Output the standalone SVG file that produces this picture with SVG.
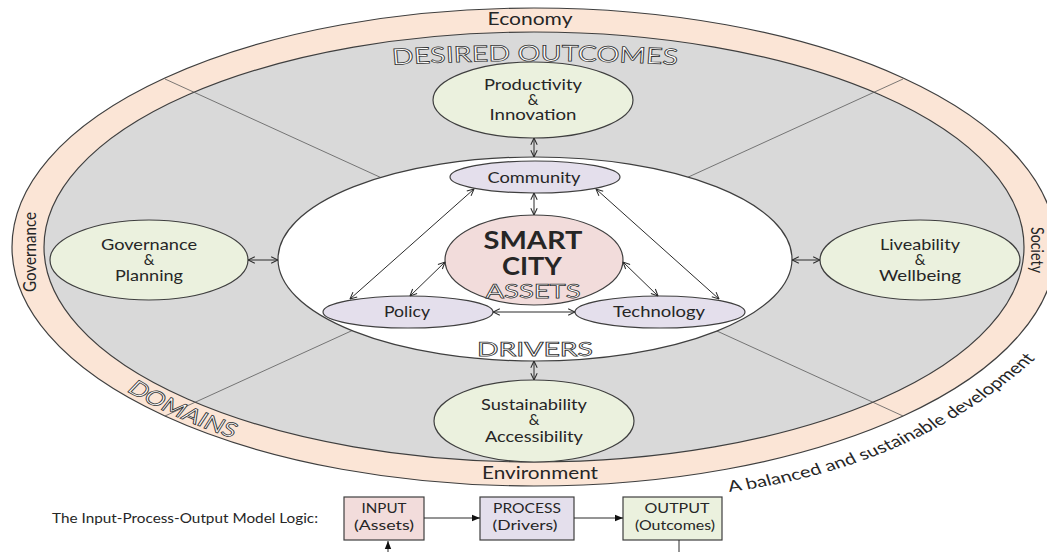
<svg xmlns="http://www.w3.org/2000/svg" width="1047" height="552" viewBox="0 0 1047 552">
  <defs>
    <style>
      .lbl { font-family: Lato, "Open Sans", "DejaVu Sans", sans-serif; fill: #262626; }
      .node { font-size: 15px; text-anchor: middle; }
      .ring { font-size: 17px; text-anchor: middle; }
      .outline { font-family: Lato, "Open Sans", "DejaVu Sans", sans-serif; fill: #ffffff; stroke: #333333; stroke-width: 0.75; }
      .edge { stroke: #2b2b2b; stroke-width: 1; fill: none; }
      .shape { stroke: #3f3f3f; stroke-width: 1.2; }
      .divider { stroke: #5a5a5a; stroke-width: 0.8; }
      .box { stroke: #3f3f3f; stroke-width: 1.2; }
      .ipo { font-size: 13px; text-anchor: middle; }
    </style>
    <marker id="open" viewBox="0 0 10 10" refX="9.5" refY="5" markerWidth="8" markerHeight="8" markerUnits="userSpaceOnUse" orient="auto-start-reverse">
      <path d="M1,1 L9.5,5 L1,9" fill="none" stroke="#2b2b2b" stroke-width="1.3"/>
    </marker>
    <marker id="solid" viewBox="0 0 10 10" refX="10" refY="5" markerWidth="8" markerHeight="8" markerUnits="userSpaceOnUse" orient="auto">
      <path d="M0,1 L10,5 L0,9 Z" fill="#111"/>
    </marker>
    <!-- curved baselines, in the 1/1.3 horizontally compressed frame -->
    <path id="p-outcomes" d="M 284.6,66 Q 411.5,56 538.5,66"/>
    <path id="p-domains" d="M 92.3,387 A 396.2,236 0 0 0 410.8,483"/>
    <path id="p-balance" d="M 561,492 C 654,476 738,432 808,345"/>
  </defs>

  <rect width="1047" height="552" fill="#ffffff"/>

  <!-- domain ring and outcome field -->
  <g id="domains-ring">
    <ellipse cx="534" cy="247" rx="522" ry="239" fill="#FBE5D6" class="shape"/>
    <ellipse cx="534" cy="247" rx="490" ry="215" fill="#D9D9D9" class="shape"/>
    <line x1="165" y1="79" x2="903" y2="416" class="divider"/>
    <line x1="903" y1="79" x2="165" y2="416" class="divider"/>
  </g>

  <g id="drivers-zone">
    <ellipse cx="535" cy="259" rx="257" ry="102" fill="#ffffff" class="shape"/>
  </g>

  <g id="productivity">
    <ellipse cx="533" cy="100" rx="100" ry="38" fill="#EBF1DE" class="shape"/>
    <text class="lbl node" x="533" y="90" textLength="98" lengthAdjust="spacingAndGlyphs">Productivity</text>
    <text class="lbl node" x="533" y="105">&amp;</text>
    <text class="lbl node" x="533" y="120" textLength="87" lengthAdjust="spacingAndGlyphs">Innovation</text>
  </g>

  <g id="governance">
    <ellipse cx="149" cy="260" rx="99" ry="40" fill="#EBF1DE" class="shape"/>
    <text class="lbl node" x="149" y="250" textLength="96" lengthAdjust="spacingAndGlyphs">Governance</text>
    <text class="lbl node" x="149" y="265">&amp;</text>
    <text class="lbl node" x="149" y="281" textLength="68" lengthAdjust="spacingAndGlyphs">Planning</text>
  </g>

  <g id="liveability">
    <ellipse cx="920" cy="260" rx="100" ry="40" fill="#EBF1DE" class="shape"/>
    <text class="lbl node" x="920" y="250" textLength="80" lengthAdjust="spacingAndGlyphs">Liveability</text>
    <text class="lbl node" x="920" y="265">&amp;</text>
    <text class="lbl node" x="920" y="281" textLength="82" lengthAdjust="spacingAndGlyphs">Wellbeing</text>
  </g>

  <g id="sustainability">
    <ellipse cx="534" cy="421" rx="100" ry="41" fill="#EBF1DE" class="shape"/>
    <text class="lbl node" x="534" y="410" textLength="106" lengthAdjust="spacingAndGlyphs">Sustainability</text>
    <text class="lbl node" x="534" y="425">&amp;</text>
    <text class="lbl node" x="534" y="442" textLength="98" lengthAdjust="spacingAndGlyphs">Accessibility</text>
  </g>

  <g id="community">
    <ellipse cx="535" cy="177" rx="85" ry="16" fill="#E4DFEC" class="shape"/>
    <text class="lbl node" x="534" y="183" textLength="93" lengthAdjust="spacingAndGlyphs">Community</text>
  </g>

  <g id="policy">
    <ellipse cx="408" cy="312" rx="85" ry="16" fill="#E4DFEC" class="shape"/>
    <text class="lbl node" x="407" y="317" textLength="46" lengthAdjust="spacingAndGlyphs">Policy</text>
  </g>

  <g id="technology">
    <ellipse cx="660" cy="312" rx="85" ry="16" fill="#E4DFEC" class="shape"/>
    <text class="lbl node" x="659" y="317" textLength="92" lengthAdjust="spacingAndGlyphs">Technology</text>
  </g>

  <g id="smart-city">
    <ellipse cx="534" cy="260" rx="89" ry="45" fill="#F2DCDB" class="shape"/>
    <text class="lbl" x="533" y="249" font-size="24" font-weight="bold" text-anchor="middle" textLength="99" lengthAdjust="spacingAndGlyphs">SMART</text>
    <text class="lbl" x="532" y="275" font-size="24" font-weight="bold" text-anchor="middle" textLength="60" lengthAdjust="spacingAndGlyphs">CITY</text>
  </g>

  <g id="connectors">
    <line x1="534" y1="138" x2="534" y2="157" class="edge" marker-start="url(#open)" marker-end="url(#open)"/>
    <line x1="534" y1="193" x2="534" y2="215" class="edge" marker-start="url(#open)" marker-end="url(#open)"/>
    <line x1="534" y1="361" x2="534" y2="380" class="edge" marker-start="url(#open)" marker-end="url(#open)"/>
    <line x1="248" y1="260" x2="278" y2="260" class="edge" marker-start="url(#open)" marker-end="url(#open)"/>
    <line x1="792" y1="260" x2="820" y2="260" class="edge" marker-start="url(#open)" marker-end="url(#open)"/>
    <line x1="474" y1="189" x2="350" y2="299" class="edge" marker-start="url(#open)" marker-end="url(#open)"/>
    <line x1="596" y1="189" x2="719" y2="299" class="edge" marker-start="url(#open)" marker-end="url(#open)"/>
    <line x1="445" y1="262" x2="410" y2="296" class="edge" marker-start="url(#open)" marker-end="url(#open)"/>
    <line x1="623" y1="262" x2="658" y2="296" class="edge" marker-start="url(#open)" marker-end="url(#open)"/>
    <line x1="493" y1="312" x2="575" y2="312" class="edge" marker-start="url(#open)" marker-end="url(#open)"/>
  </g>

  <!-- layer titles -->
  <g id="layer-titles">
    <text class="outline" x="533" y="298" font-size="20" text-anchor="middle" textLength="95" lengthAdjust="spacingAndGlyphs">ASSETS</text>
    <text class="outline" x="535" y="356" font-size="19" text-anchor="middle" textLength="116" lengthAdjust="spacingAndGlyphs">DRIVERS</text>
    <g transform="scale(1.3,1)">
      <text class="outline" font-size="22"><textPath href="#p-outcomes" startOffset="50%" text-anchor="middle">DESIRED OUTCOMES</textPath></text>
      <text class="outline" font-size="20"><textPath href="#p-domains" startOffset="6">DOMAINS</textPath></text>
      <text class="lbl" font-size="15.5"><textPath href="#p-balance">A balanced and sustainable development</textPath></text>
    </g>
  </g>

  <!-- ring labels -->
  <g id="ring-labels">
    <text class="lbl ring" x="530" y="25" textLength="85" lengthAdjust="spacingAndGlyphs">Economy</text>
    <text class="lbl ring" x="540" y="479" textLength="116" lengthAdjust="spacingAndGlyphs">Environment</text>
    <text class="lbl" font-size="14" text-anchor="middle" transform="translate(36,252) scale(1.3,1) rotate(-90)" textLength="80" lengthAdjust="spacingAndGlyphs">Governance</text>
    <text class="lbl" font-size="14" text-anchor="middle" transform="translate(1031,250) scale(1.3,1) rotate(90)" textLength="46" lengthAdjust="spacingAndGlyphs">Society</text>
  </g>

  <!-- input-process-output legend -->
  <g id="ipo-caption">
    <text class="lbl" x="52" y="523" font-size="13" textLength="266" lengthAdjust="spacingAndGlyphs">The Input-Process-Output Model Logic:</text>
  </g>
  <g id="ipo-input">
    <rect x="344" y="497" width="80" height="43" fill="#F2DCDB" class="box"/>
    <text class="lbl ipo" x="384" y="513" textLength="45" lengthAdjust="spacingAndGlyphs">INPUT</text>
    <text class="lbl ipo" x="384" y="530" textLength="60" lengthAdjust="spacingAndGlyphs">(Assets)</text>
  </g>
  <g id="ipo-process">
    <rect x="480" y="497" width="94" height="43" fill="#E4DFEC" class="box"/>
    <text class="lbl ipo" x="527" y="513" textLength="68" lengthAdjust="spacingAndGlyphs">PROCESS</text>
    <text class="lbl ipo" x="525" y="530" textLength="65" lengthAdjust="spacingAndGlyphs">(Drivers)</text>
  </g>
  <g id="ipo-output">
    <rect x="623" y="497" width="99" height="43" fill="#EBF1DE" class="box"/>
    <text class="lbl ipo" x="677" y="513" textLength="65" lengthAdjust="spacingAndGlyphs">OUTPUT</text>
    <text class="lbl ipo" x="675" y="530" textLength="80" lengthAdjust="spacingAndGlyphs">(Outcomes)</text>
  </g>
  <g id="ipo-connectors">
    <line x1="424" y1="518" x2="480" y2="518" class="edge" marker-end="url(#solid)"/>
    <line x1="574" y1="518" x2="623" y2="518" class="edge" marker-end="url(#solid)"/>
    <line x1="388" y1="552" x2="388" y2="541" class="edge" marker-end="url(#solid)"/>
    <line x1="679" y1="540" x2="679" y2="552" class="edge"/>
  </g>
</svg>
